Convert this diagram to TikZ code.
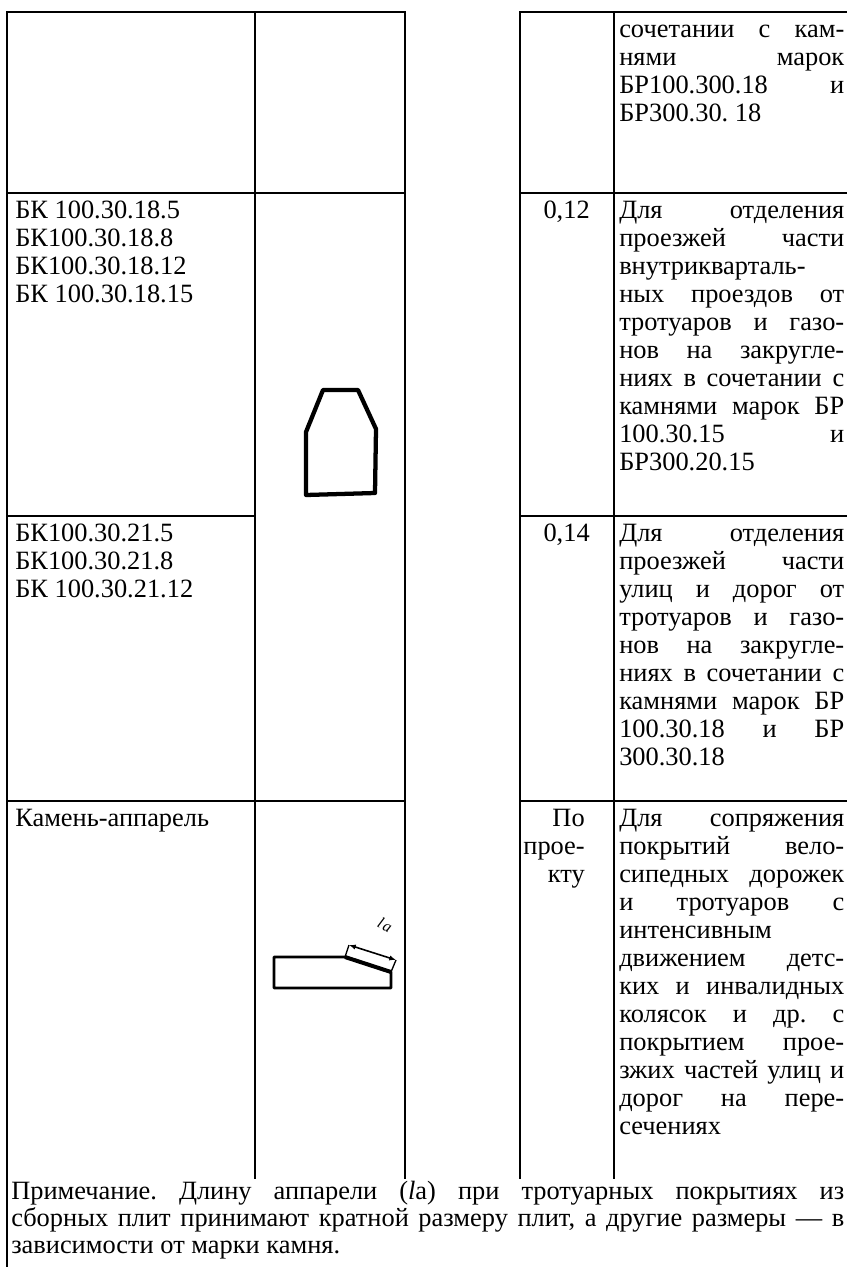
\documentclass[tikz,border=0pt]{standalone}
\usepackage{fontspec}
\setmainfont{Liberation Serif}
\usepackage{tikz}
\usetikzlibrary{arrows.meta}

% one justified line of the last column / of the note
\newcommand{\jl}[1]{\makebox[168.75pt][s]{#1}}
\newcommand{\nl}[1]{\makebox[624.75pt][s]{#1}}

\tikzset{
  tabline/.style={line width=1.8pt, line cap=rect},
  cell/.style={anchor=north west, inner sep=0pt, font=\fontsize{19.8}{21}\selectfont},
  numcell/.style={anchor=north east, inner sep=0pt, font=\fontsize{19.8}{21}\selectfont},
  stone/.style={line width=3.2pt, line join=round}
}

\begin{document}
\frenchspacing
\begin{tikzpicture}[x=0.75pt,y=-0.75pt]
  \useasboundingbox (0,0) rectangle (846,1267);

  % vertical rules
  \draw[tabline] (  7,12) -- (  7,1267);
  \draw[tabline] (255,12) -- (255,1178);
  \draw[tabline] (405,12) -- (405,1178);
  \draw[tabline] (520,12) -- (520,1178);
  \draw[tabline] (614,12) -- (614,1178);

  % horizontal rules
  \draw[tabline] (  7, 12) -- (405, 12);
  \draw[tabline] (520, 12) -- (846, 12);
  \draw[tabline] (  7,193) -- (405,193);
  \draw[tabline] (520,193) -- (846,193);
  \draw[tabline] (  7,516) -- (255,516);
  \draw[tabline] (520,516) -- (846,516);
  \draw[tabline] (  7,801) -- (405,801);
  \draw[tabline] (520,801) -- (846,801);

  % first row (end of the previous entry)
  \node[cell] (descA) at (619,18)
  {\begin{tabular}{@{}l@{}}\jl{сочетании с кам-}\\ \jl{нями марок}\\
   \jl{БР100.300.18 и}\\ БР300.30. 18\end{tabular}};

  % BK 100.30.18
  \node[cell] (markB) at (15,199)
  {\begin{tabular}{@{}l@{}}БК 100.30.18.5\\ БК100.30.18.8\\
   БК100.30.18.12\\ БК 100.30.18.15\end{tabular}};
  \node[numcell] (massB) at (590,199)
  {\begin{tabular}{@{}r@{}}0,12\end{tabular}};
  \node[cell] (descB) at (619,199)
  {\begin{tabular}{@{}l@{}}\jl{Для отделения}\\ \jl{проезжей части}\\
   внутрикварталь-\\ \jl{ных проездов от}\\ \jl{тротуаров и газо-}\\
   \jl{нов на закругле-}\\ \jl{ниях в сочетании с}\\ \jl{камнями марок БР}\\
   \jl{100.30.15 и}\\ БР300.20.15\end{tabular}};

  % BK 100.30.21
  \node[cell] (markC) at (15,522)
  {\begin{tabular}{@{}l@{}}БК100.30.21.5\\ БК100.30.21.8\\
   БК 100.30.21.12\end{tabular}};
  \node[numcell] (massC) at (590,522)
  {\begin{tabular}{@{}r@{}}0,14\end{tabular}};
  \node[cell] (descC) at (619,522)
  {\begin{tabular}{@{}l@{}}\jl{Для отделения}\\ \jl{проезжей части}\\
   \jl{улиц и дорог от}\\ \jl{тротуаров и газо-}\\ \jl{нов на закругле-}\\
   \jl{ниях в сочетании с}\\ \jl{камнями марок БР}\\ \jl{100.30.18 и БР}\\
   300.30.18\end{tabular}};

  % apparel
  \node[cell] (markD) at (15,807)
  {\begin{tabular}{@{}l@{}}Камень-аппарель\end{tabular}};
  \node[numcell] (massD) at (585,807)
  {\begin{tabular}{@{}r@{}}По\\ прое-\\ кту\end{tabular}};
  \node[cell] (descD) at (619,807)
  {\begin{tabular}{@{}l@{}}\jl{Для сопряжения}\\ \jl{покрытий вело-}\\
   \jl{сипедных дорожек}\\ \jl{и тротуаров с}\\ интенсивным\\
   \jl{движением детс-}\\ \jl{ких и инвалидных}\\ \jl{колясок и др. с}\\
   \jl{покрытием прое-}\\ \jl{зжих частей улиц и}\\ \jl{дорог на пере-}\\
   сечениях\end{tabular}};

  % note under the table
  \node[cell, font=\fontsize{19.8}{20.25}\selectfont] (note) at (11,1180)
  {\begin{tabular}{@{}l@{}}\nl{Примечание. Длину аппарели (\textit{l}а) при тротуарных покрытиях из}\\
   \nl{сборных плит принимают кратной размеру плит, а другие размеры — в}\\
   зависимости от марки камня.\end{tabular}};

  % section of the curb stone
  \draw[stone] (323,390) -- (358,390) -- (376,429) -- (375,493)
    -- (306,495) -- (306,432) -- cycle;

  % apparel stone with its slope length
  \draw[line width=2.2pt, line join=round] (274,988) -- (274,957) -- (345,957)
    -- (391,972) -- (391,988) -- cycle;
  \draw[line width=3pt] (345,957) -- (391,972);
  \coordinate (slA) at (345,957);
  \coordinate (slB) at (391,972);
  \coordinate (dimA) at (349,945);
  \coordinate (dimB) at (396,960);
  \draw[line width=1pt] (slA) -- (dimA);
  \draw[line width=1pt] (slB) -- (dimB);
  \draw[line width=1.2pt, {Latex[length=5pt,width=4pt]}-{Latex[length=5pt,width=4pt]}]
    (dimA) -- (dimB);
  \node[rotate=-27, inner sep=0pt, font=\fontsize{12}{14}\selectfont\itshape]
    (la) at (385,925) {l\kern1pt a};
\end{tikzpicture}
\end{document}
